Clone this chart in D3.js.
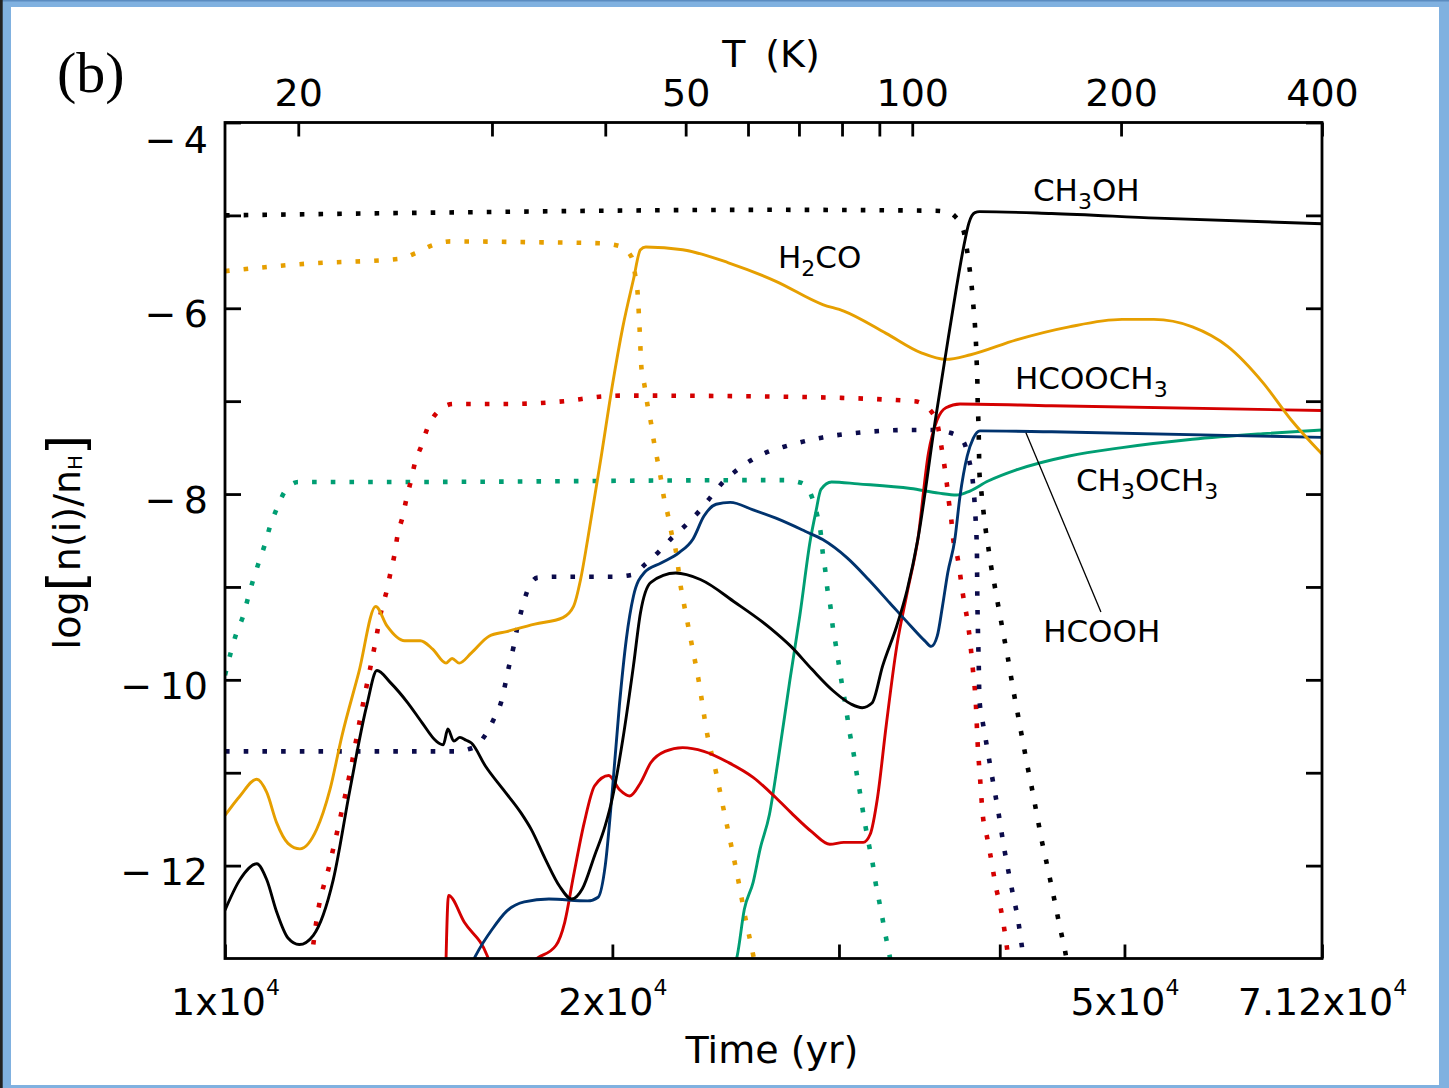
<!DOCTYPE html>
<html><head><meta charset="utf-8">
<script src="https://cdn.jsdelivr.net/npm/d3@7"></script>
<style>
html,body{margin:0;padding:0;background:#fff;}
svg{display:block;}
</style></head><body>
<svg id="chart" width="1449" height="1088"></svg>
<script>
// ---------------- data ----------------
const timeDomain = [1e4, 7.12e4];
const abundDomain = [-13, -4];
const yMajorTicks = [-12, -10, -8, -6, -4];
const yMinorTicks = [-11, -9, -7, -5];
const timeTicks = [1e4, 2e4, 3e4, 4e4, 5e4, 7.12e4];
const timeTickMantissa = { 10000: "1", 20000: "2", 50000: "5", 71200: "7.12" };
const tempTicks = [20, 30, 40, 50, 60, 70, 80, 90, 100, 200, 400];
const tempTickLabels = [20, 50, 100, 200, 400];
// warm-up law: T = T0 + (Tmax - T0) * (t / tEnd)^2
const heatT0 = 10, heatTmax = 400, heatTEnd = 7.12e4;

const ch3ohSolid = [[10000,-12.48],[10272,-12.15],[10584,-11.98],[10774,-12.15],[10969,-12.5],[11193,-12.78],[11422,-12.85],[11712,-12.75],[12138,-12.15],[12506,-11.18],[12885,-10.28],[13125,-9.9],[13445,-10.03],[13873,-10.25],[14226,-10.46],[14594,-10.66],[14777,-10.70],[14900,-10.53],[15061,-10.66],[15225,-10.62],[15396,-10.65],[15542,-10.68],[15939,-10.93],[16449,-11.18],[16978,-11.43],[17297,-11.61],[17739,-11.93],[18192,-12.22],[18598,-12.36],[18954,-12.25],[19376,-11.89],[19746,-11.57],[19994,-11.28],[20378,-10.64],[20768,-9.85],[21030,-9.28],[21428,-8.95],[22397,-8.85],[23409,-8.92],[24930,-9.17],[26513,-9.44],[27528,-9.64],[28597,-9.89],[29698,-10.12],[30649,-10.26],[31273,-10.30],[31827,-10.25],[32439,-9.85],[33267,-9.42],[33896,-9.03],[34545,-8.49],[35649,-7.2],[36328,-6.48],[37024,-5.77],[37497,-5.34],[37855,-5.08],[38263,-4.97],[38573,-4.96],[43889,-4.98],[53018,-5.03],[71200,-5.09]];
const ch3ohIce = [[10000,-5.00],[14587,-4.97],[26562,-4.94],[35618,-4.95],[36589,-4.97],[36918,-5.01],[37497,-5.17],[37720,-5.37],[37895,-5.57],[38045,-5.77],[38159,-5.98],[38263,-6.18],[38332,-6.37],[38380,-6.57],[38427,-6.77],[38448,-6.98],[38489,-7.17],[38523,-7.36],[38571,-7.77],[38695,-7.96],[38838,-8.17],[38983,-8.36],[39177,-8.56],[39364,-8.76],[39595,-8.95],[39840,-9.16],[40085,-9.36],[40316,-9.55],[40570,-9.75],[40796,-9.95],[41031,-10.15],[41289,-10.35],[41527,-10.54],[41787,-10.74],[42046,-10.94],[42318,-11.13],[42585,-11.33],[42853,-11.53],[43121,-11.73],[43422,-11.92],[43727,-12.12],[44034,-12.32],[44331,-12.52],[44642,-12.72],[44948,-12.91],[45189,-13.1]];
const h2coSolid = [[10000,-11.46],[10272,-11.25],[10584,-11.07],[10774,-11.21],[10969,-11.54],[11193,-11.76],[11436,-11.82],[11782,-11.61],[12067,-11.18],[12329,-10.6],[12705,-9.92],[13095,-9.21],[13362,-9.42],[13790,-9.58],[14183,-9.58],[14501,-9.67],[14851,-9.82],[15013,-9.77],[15204,-9.82],[15542,-9.71],[16039,-9.53],[16554,-9.48],[17408,-9.40],[18306,-9.33],[18657,-9.21],[18894,-8.92],[19135,-8.49],[19623,-7.56],[19994,-6.84],[20378,-6.20],[20768,-5.69],[21030,-5.37],[21232,-5.34],[22680,-5.37],[24617,-5.51],[26800,-5.71],[29140,-5.96],[30262,-6.03],[32640,-6.27],[34763,-6.48],[36328,-6.55],[37968,-6.50],[41209,-6.34],[45294,-6.20],[49782,-6.12],[52688,-6.12],[56466,-6.20],[60135,-6.41],[64057,-6.80],[67360,-7.20],[71200,-7.57]];
const h2coIce = [[10000,-5.60],[11560,-5.52],[13615,-5.47],[14048,-5.41],[14501,-5.32],[14968,-5.28],[17629,-5.29],[19560,-5.30],[20251,-5.33],[20702,-5.45],[20831,-5.64],[20925,-5.84],[21003,-6.25],[21067,-6.64],[21189,-6.84],[21296,-7.04],[21428,-7.23],[21540,-7.43],[21675,-7.63],[21811,-7.83],[21920,-8.02],[22085,-8.22],[22256,-8.45],[22397,-8.60],[22611,-9.01],[22752,-9.21],[23038,-9.60],[23334,-10.00],[23703,-10.59],[24080,-11.00],[24384,-11.37],[24727,-11.77],[25055,-12.16],[25371,-12.56],[25728,-12.96],[25858,-13.12]];
const hcooch3SolidEarly = [[14835,-13.3],[14918,-12.32],[15346,-12.61],[15987,-12.97],[16065,-13.05]];
const hcooch3Solid = [[17104,-13.08],[17518,-12.99],[18079,-12.86],[18365,-12.61],[18657,-12.11],[19016,-11.54],[19376,-11.14],[19871,-11.03],[20251,-11.18],[20635,-11.25],[21030,-11.11],[21428,-10.89],[21976,-10.77],[22680,-10.73],[23556,-10.77],[24617,-10.89],[25728,-11.05],[26800,-11.27],[27533,-11.43],[28597,-11.64],[29513,-11.77],[30262,-11.75],[31331,-11.75],[31729,-11.66],[32132,-11.28],[32640,-10.50],[33267,-9.64],[33896,-9.06],[34545,-8.49],[35208,-7.56],[35765,-7.20],[36328,-7.07],[37255,-7.03],[43889,-7.05],[71200,-7.10]];
const hcooch3Ice = [[11664,-13.05],[11782,-12.58],[12067,-11.97],[12284,-11.50],[12506,-11.0],[12731,-10.43],[12822,-10.21],[13069,-9.64],[13236,-9.24],[13362,-9.03],[13445,-8.85],[13548,-8.64],[13615,-8.45],[13744,-8.24],[13831,-8.06],[13945,-7.86],[14050,-7.66],[14212,-7.48],[14366,-7.29],[14620,-7.12],[15041,-7.03],[16636,-7.03],[18365,-7.00],[19623,-6.95],[20311,-6.94],[26554,-6.95],[34331,-7.00],[35384,-7.11],[35831,-7.29],[36034,-7.49],[36216,-7.68],[36381,-7.88],[36517,-8.08],[36674,-8.27],[36794,-8.47],[37097,-8.69],[37449,-9.08],[37855,-9.48],[38111,-9.87],[38332,-10.28],[38448,-10.68],[38620,-11.07],[38814,-11.47],[39059,-11.66],[39304,-11.86],[39755,-12.25],[40056,-12.45],[40489,-12.85],[40661,-13.05]];
const hcoohSolid = [[15500,-13.1],[15660,-12.97],[16140,-12.68],[16554,-12.49],[17083,-12.39],[17854,-12.36],[19135,-12.38],[19497,-12.34],[19746,-12.0],[19994,-11.21],[20251,-10.28],[20506,-9.56],[20768,-9.10],[21163,-8.85],[21839,-8.74],[22537,-8.63],[23112,-8.48],[23556,-8.24],[24080,-8.11],[24695,-8.09],[25728,-8.17],[26800,-8.26],[28236,-8.40],[29140,-8.49],[30458,-8.69],[31628,-8.92],[32845,-9.17],[34110,-9.42],[34982,-9.58],[35384,-9.64],[35765,-9.53],[36101,-9.21],[36444,-8.85],[36911,-8.49],[37248,-8.03],[37738,-7.59],[38145,-7.40],[38607,-7.32],[43889,-7.33],[71200,-7.39]];
const hcoohIce = [[10000,-10.77],[15064,-10.77],[15590,-10.73],[15939,-10.59],[16192,-10.41],[16397,-10.23],[16521,-10.03],[16636,-9.83],[16762,-9.64],[16870,-9.44],[17007,-9.24],[17169,-9.05],[17497,-8.90],[18079,-8.89],[19994,-8.89],[20702,-8.87],[21232,-8.75],[21771,-8.61],[22256,-8.47],[22825,-8.33],[23376,-8.18],[23853,-8.03],[24384,-7.87],[25006,-7.74],[25679,-7.63],[26467,-7.54],[27191,-7.49],[29140,-7.39],[31035,-7.34],[34221,-7.31],[35429,-7.31],[36609,-7.34],[37497,-7.44],[37855,-7.63],[38093,-7.83],[38207,-8.02],[38297,-8.24],[38366,-8.44],[38400,-8.63],[38421,-9.03],[38462,-9.42],[38523,-9.82],[38571,-10.21],[38764,-10.42],[38983,-10.62],[39430,-11.02],[39885,-11.41],[40313,-11.81],[40821,-12.21],[41337,-12.59],[41730,-12.97],[41844,-13.05]];
const ch3och3Solid = [[24859,-13.1],[25006,-12.97],[25327,-12.47],[25728,-12.18],[26053,-11.82],[26490,-11.45],[26896,-10.88],[27480,-10.0],[27976,-9.3],[28505,-8.49],[28776,-8.20],[29048,-7.95],[29604,-7.87],[31035,-7.89],[34110,-7.94],[35873,-7.99],[37024,-8.01],[37731,-7.98],[39177,-7.86],[41209,-7.74],[45294,-7.59],[49782,-7.50],[56466,-7.41],[64057,-7.35],[71200,-7.31]];
const ch3och3Ice = [[10000,-9.95],[10211,-9.49],[10332,-9.31],[10420,-9.12],[10519,-8.92],[10633,-8.72],[10741,-8.54],[10838,-8.35],[10969,-8.16],[11133,-7.97],[11401,-7.87],[13506,-7.87],[26554,-7.85],[27191,-7.85],[28060,-7.88],[28597,-8.04],[28866,-8.24],[29048,-8.44],[29140,-8.63],[29272,-8.82],[29382,-9.02],[29551,-9.22],[29663,-9.42],[29827,-9.62],[29982,-9.82],[30131,-10.01],[30300,-10.21],[30458,-10.41],[30610,-10.60],[30802,-10.80],[30958,-11.0],[31136,-11.20],[31292,-11.39],[31469,-11.59],[31668,-11.79],[31867,-11.98],[32028,-12.18],[32234,-12.38],[32439,-12.58],[32640,-12.78],[32845,-12.97],[32922,-13.05]];

// species labels: [time, abundance] anchor of text start / baseline
const speciesLabelNames = ["CH3OH", "H2CO", "HCOOCH3", "CH3OCH3", "HCOOH"];
const speciesLabelTimes = [42447, 26896, 41103, 45842, 43229];
const speciesLabelAbund = [-4.845, -5.569, -6.869, -7.967, -9.589];
const leaderFrom = [41919, -7.34];
const leaderTo = [47939, -9.27];

// ---------------- drawing ----------------
const W = 1449, H = 1088;
const plotL = 225, plotR = 1322, plotT = 122.5, plotB = 958.5;
const FONT = "'DejaVu Sans', sans-serif";
const svg = d3.select("#chart");

// outer frame
svg.append("rect").attr("width", W).attr("height", H).attr("fill", "#80b1e0");
svg.append("rect").attr("x", 0).attr("y", 0).attr("width", W).attr("height", 1.5).attr("fill", "#5b8cc0");
svg.append("rect").attr("x", 0).attr("y", 0).attr("width", 2.7).attr("height", H).attr("fill", "#222");
svg.append("rect").attr("x", 11).attr("y", 7).attr("width", 1428).attr("height", 1078).attr("fill", "#fff");

const x = d3.scaleLog().domain(timeDomain).range([plotL, plotR]);
const y = d3.scaleLinear().domain(abundDomain).range([plotB, plotT]);
const tempToTime = T => heatTEnd * Math.sqrt((T - heatT0) / (heatTmax - heatT0));

svg.append("clipPath").attr("id", "clip").append("rect")
  .attr("x", plotL).attr("y", plotT).attr("width", plotR - plotL).attr("height", plotB - plotT);

const line = d3.line().x(d => x(d[0])).y(d => y(d[1])).curve(d3.curveMonotoneX);
const C = { black: "#000000", orange: "#E69F00", red: "#D40000", green: "#009E73", blue: "#00336E", navy: "#0B0B4B" };
const series = [
  { d: ch3och3Ice, c: C.green, dot: true },
  { d: hcooch3Ice, c: C.red, dot: true },
  { d: h2coIce, c: C.orange, dot: true },
  { d: hcoohIce, c: C.navy, dot: true },
  { d: ch3ohIce, c: C.black, dot: true },
  { d: ch3och3Solid, c: C.green, dot: false },
  { d: hcooch3SolidEarly, c: C.red, dot: false },
  { d: hcooch3Solid, c: C.red, dot: false },
  { d: hcoohSolid, c: C.blue, dot: false },
  { d: h2coSolid, c: C.orange, dot: false },
  { d: ch3ohSolid, c: C.black, dot: false },
];
const gLines = svg.append("g").attr("clip-path", "url(#clip)");
series.forEach(s => {
  gLines.append("path").attr("d", line(s.d)).attr("fill", "none")
    .attr("stroke", s.c)
    .attr("stroke-width", s.dot ? 4.6 : 2.9)
    .attr("stroke-dasharray", s.dot ? "4.6 14.1" : null)
    .attr("stroke-linecap", "butt")
    .attr("stroke-linejoin", "round");
});

// axes
const fmtY = d => yMajorTicks.includes(d) ? "\u2212\u2009" + Math.abs(d) : "";
const styleAxis = g => {
  g.select(".domain").remove();
  g.selectAll(".tick line").attr("stroke", "#000").attr("stroke-width", 2.8);
  g.selectAll("text").attr("font-family", FONT).attr("font-size", 38).attr("fill", "#000");
};
svg.append("g").attr("transform", `translate(${plotL},0)`)
  .call(d3.axisLeft(y).tickValues(yMajorTicks.concat(yMinorTicks)).tickSize(-16).tickPadding(17).tickFormat(fmtY))
  .call(styleAxis)
  .call(g => g.selectAll(".tick text").attr("dy", d => d === -4 ? "0.8em" : "0.49em"));
svg.append("g").attr("transform", `translate(${plotR},0)`)
  .call(d3.axisRight(y).tickValues(yMajorTicks.concat(yMinorTicks)).tickSize(-16).tickFormat(""))
  .call(styleAxis);
svg.append("g").attr("transform", `translate(0,${plotB})`)
  .call(d3.axisBottom(x).tickValues(timeTicks).tickSize(-14).tickPadding(30).tickFormat(d => timeTickMantissa[Math.round(d)] ? "x" : ""))
  .call(styleAxis)
  .call(g => g.selectAll(".tick text").each(function(d) {
    const m = timeTickMantissa[Math.round(d)];
    if (!m) return;
    const t = d3.select(this).text("");
    t.append("tspan").text(m + "x10");
    t.append("tspan").attr("font-size", 22).attr("dy", -20).text("4");
  }));
svg.append("g").attr("transform", `translate(0,${plotT})`)
  .call(d3.axisTop(x).tickValues(tempTicks.map(tempToTime)).tickSize(-14).tickPadding(17)
    .tickFormat((d, i) => tempTickLabels.includes(tempTicks[i]) ? String(tempTicks[i]) : ""))
  .call(styleAxis);

// plot frame
svg.append("rect").attr("x", plotL).attr("y", plotT).attr("width", plotR - plotL).attr("height", plotB - plotT)
  .attr("fill", "none").attr("stroke", "#000").attr("stroke-width", 2.8);

// axis titles
svg.append("text").attr("x", 772).attr("y", 1063).attr("text-anchor", "middle")
  .attr("font-family", FONT).attr("font-size", 38).text("Time (yr)");
svg.append("text").attr("x", 771).attr("y", 67).attr("text-anchor", "middle")
  .attr("font-family", FONT).attr("font-size", 38).text("T\u00a0\u2009(K)");
const yl = svg.append("text").attr("transform", "translate(80,542) rotate(-90)").attr("text-anchor", "middle")
  .attr("font-family", FONT).attr("font-size", 38);
yl.append("tspan").text("log");
yl.append("tspan").attr("font-size", 52).attr("dy", 4).text("[");
yl.append("tspan").attr("dy", -4).text("n(i)/n");
yl.append("tspan").attr("font-size", 20).attr("dy", 2).text("H");
yl.append("tspan").attr("font-size", 52).attr("dy", 2).text("]");

svg.append("text").attr("x", 57).attr("y", 92).attr("font-family", "'Liberation Serif', serif")
  .attr("font-size", 58).text("(b)");

// species labels
speciesLabelNames.forEach((name, i) => {
  const t = svg.append("text").attr("x", x(speciesLabelTimes[i])).attr("y", y(speciesLabelAbund[i]))
    .attr("font-family", FONT).attr("font-size", 31).attr("fill", "#000");
  const parts = name.split(/(\d)/).filter(p => p.length);
  let shifted = false;
  parts.forEach(p => {
    if (/\d/.test(p)) { t.append("tspan").attr("font-size", 22).attr("dy", 8).text(p); shifted = true; }
    else { t.append("tspan").attr("dy", shifted ? -8 : 0).text(p); shifted = false; }
  });
});
svg.append("line").attr("x1", x(leaderFrom[0])).attr("y1", y(leaderFrom[1]))
  .attr("x2", x(leaderTo[0])).attr("y2", y(leaderTo[1])).attr("stroke", "#000").attr("stroke-width", 1.3);
</script>
</body></html>
